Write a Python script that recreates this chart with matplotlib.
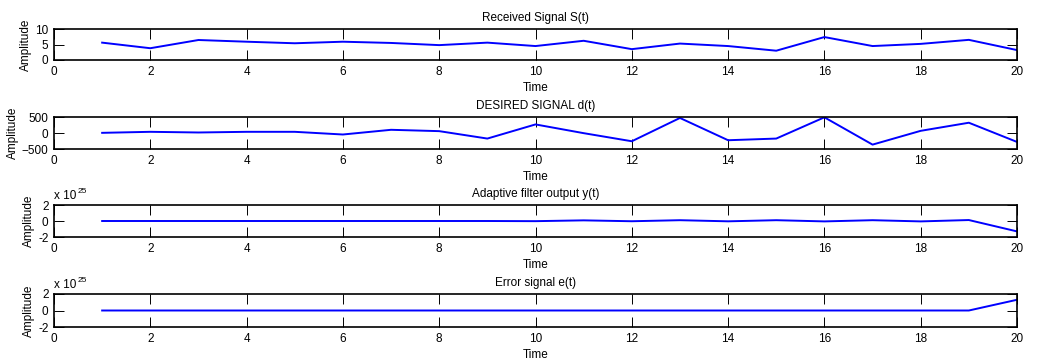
import numpy as np
import matplotlib
matplotlib.use('Agg')
import matplotlib.pyplot as plt
from matplotlib.ticker import FuncFormatter

plt.rcParams['font.family'] = ['Liberation Sans', 'DejaVu Sans']
plt.rcParams['font.size'] = 8.5

# Sampel waktu
t = np.arange(1, 21)

# Sinyal yang diterima S(t)
s = [5.6, 3.8, 6.45, 5.9, 5.4, 5.9, 5.5, 4.8, 5.6, 4.5,
     6.2, 3.5, 5.3, 4.5, 3.0, 7.4, 4.5, 5.2, 6.5, 3.2]

# Sinyal yang diinginkan d(t)
d = [5, 37, 16, 37, 37, -47, 100, 58, -174, 268,
     -5, -258, 470, -226, -174, 490, -363, 68, 321, -279]

# Keluaran filter adaptif y(t)
y = [0.0, 0.0, 0.0, 0.0, 0.0, 0.0, 0.0, 0.0, 0.0, -0.02e25,
     0.08e25, -0.03e25, 0.1e25, -0.04e25, 0.1e25, -0.05e25, 0.1e25, -0.05e25, 0.12e25, -1.3e25]

# Sinyal error e(t)
e = [0.0, 0.0, 0.0, 0.0, 0.0, 0.0, 0.0, 0.0, 0.0, 0.0,
     0.0, 0.0, 0.0, 0.0, 0.0, 0.0, 0.0, 0.0, 0.0, 1.3e25]

judul = ['Received Signal S(t)', 'DESIRED SIGNAL d(t)',
         'Adaptive filter output y(t)', 'Error signal e(t)']
sinyal = [s, d, y, e]
batas_y = [(0, 10), (-500, 500), (-2e25, 2e25), (-2e25, 2e25)]
ticks_y = [[0, 5, 10], [-500, 0, 500], [-2e25, 0, 2e25], [-2e25, 0, 2e25]]
skala = [None, None, 25, 25]

W, H = 1038, 362
fig = plt.figure(figsize=(W / 100, H / 100), dpi=100)

# posisi atas/bawah tiap subplot (piksel)
posisi = [(29, 60), (117, 149), (205, 237), (294, 327)]

for i in range(4):
    atas, bawah = posisi[i]
    ax = fig.add_axes([54 / W, 1 - bawah / H, 963 / W, (bawah - atas) / H])
    ax.plot(t, sinyal[i], color='#0000ff', lw=1.4)
    ax.set_xlim(0, 20)
    ax.set_ylim(*batas_y[i])
    ax.set_xticks(range(0, 21, 2))
    ax.set_yticks(ticks_y[i])
    ax.tick_params(direction='in', length=7, width=0.7, top=True, right=True,
                   labelsize=8.5, pad=4)
    for sp in ax.spines.values():
        sp.set_linewidth(1.2)
    if skala[i]:
        # faktor pengali sumbu y, gaya "x 10^n"
        p = skala[i]
        ax.yaxis.set_major_formatter(FuncFormatter(lambda v, pos, p=p: '%g' % (v / 10**p)))
        ax.text(0, 1.1, 'x 10', transform=ax.transAxes,
                fontsize=8.5, va='bottom', ha='left')
        ax.text(0.0245, 1.3, str(p), transform=ax.transAxes,
                fontsize=6, va='bottom', ha='left')
    ax.set_title(judul[i], fontsize=8.5, pad=6)
    ax.set_xlabel('Time', fontsize=8.5, labelpad=3)
    ax.set_ylabel('Amplitude', fontsize=8.5, labelpad=2)

fig.savefig('out.png', dpi=100)
